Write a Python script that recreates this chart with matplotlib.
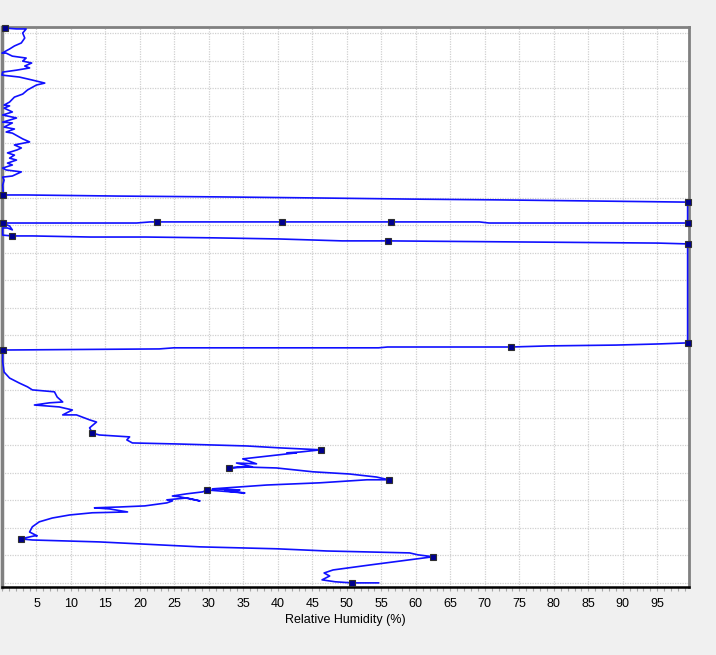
import matplotlib
matplotlib.use("Agg")
import matplotlib.pyplot as plt
from matplotlib.ticker import MultipleLocator

# sounding trace, surface upwards: relative humidity (%) and altitude (km)
rh = [
    54.6, 50.7, 48.3, 46.4, 47.5, 46.7, 48.0, 53.3, 59.1, 62.5,
    60.3, 59.1, 47.1, 39.8, 28.7, 14.1, 4.4, 2.7, 4.7, 5.1,
    4.0, 4.4, 5.4, 7.3, 9.8, 13.1, 18.2, 15.6, 13.4, 17.0,
    20.7, 23.9, 24.7, 23.9, 26.8, 28.7, 25.8, 24.7, 26.8, 29.1,
    29.7, 35.2, 32.3, 34.5, 30.5, 38.4, 46.1, 52.9, 56.1, 54.3,
    50.4, 45.1, 39.8, 34.5, 32.9, 36.3, 34.0, 36.9, 34.9, 37.4,
    42.7, 41.3, 43.2, 46.2, 40.3, 35.5, 25.8, 18.9, 18.1, 18.5,
    16.0, 14.1, 13.1, 12.7, 13.7, 12.7, 10.8, 8.8, 10.2, 8.3,
    4.7, 6.9, 8.8, 8.0, 7.6, 4.4, 3.7, 2.5, 1.1, 0.3,
    0.1, 0.1, 0.1, 22.8, 24.9, 54.6, 55.9, 73.8, 79.2, 89.0,
    95.1, 99.4, 99.4, 95.1, 74.5, 55.9, 49.3, 40.1, 30.8, 20.8,
    12.8, 4.4, 1.4, 0.1, 0.1, 0.8, 1.5, 1.1, 0.1, 19.5,
    21.5, 22.4, 40.6, 56.4, 69.2, 70.6, 99.4, 99.4, 85.9, 72.5,
    59.3, 46.1, 31.4, 16.9, 3.5, 0.2, 0.1, 0.3, 0.1, 1.5,
    2.8, 0.6, 0.1, 1.5, 0.8, 2.1, 1.1, 1.8, 0.8, 2.2,
    2.8, 1.8, 4.0, 3.0, 2.5, 1.5, 0.6, 1.8, 0.3, 1.5,
    0.1, 2.1, 0.1, 1.5, 0.3, 1.1, 0.3, 1.1, 1.8, 3.0,
    3.7, 5.0, 6.2, 4.4, 2.5, 1.1, 0.0, 0.1, 2.1, 4.0,
    3.3, 4.3, 3.0, 3.5, 1.5, 0.6, 0.0, 1.1, 1.8, 2.8,
    3.3, 3.0, 3.5, 2.1, 0.5,
]
alt = [
    0.00, 0.00, 0.04, 0.11, 0.25, 0.36, 0.47, 0.65, 0.84, 0.95,
    1.02, 1.09, 1.16, 1.24, 1.31, 1.49, 1.56, 1.60, 1.71, 1.71,
    1.85, 2.04, 2.22, 2.36, 2.47, 2.55, 2.58, 2.69, 2.73, 2.76,
    2.80, 2.91, 2.98, 3.02, 3.09, 2.98, 3.13, 3.16, 3.24, 3.31,
    3.38, 3.27, 3.35, 3.38, 3.42, 3.56, 3.64, 3.75, 3.75, 3.85,
    3.96, 4.04, 4.18, 4.22, 4.18, 4.22, 4.36, 4.33, 4.51, 4.58,
    4.73, 4.73, 4.76, 4.84, 4.91, 4.98, 5.05, 5.09, 5.20, 5.31,
    5.35, 5.38, 5.45, 5.64, 5.85, 5.93, 6.11, 6.11, 6.29, 6.40,
    6.47, 6.55, 6.58, 6.76, 6.95, 7.02, 7.13, 7.27, 7.45, 7.67,
    8.04, 8.29, 8.47, 8.51, 8.55, 8.55, 8.58, 8.58, 8.62, 8.65,
    8.69, 8.73, 12.33, 12.36, 12.40, 12.44, 12.44, 12.51, 12.55, 12.58,
    12.58, 12.62, 12.62, 12.65, 12.91, 12.91, 12.84, 12.98, 13.09, 13.09,
    13.13, 13.13, 13.13, 13.13, 13.13, 13.09, 13.09, 13.85, 13.89, 13.93,
    13.96, 14.00, 14.04, 14.07, 14.11, 14.11, 14.47, 14.65, 14.76, 14.80,
    14.95, 15.02, 15.09, 15.20, 15.27, 15.38, 15.45, 15.56, 15.64, 15.75,
    15.82, 15.93, 16.04, 16.15, 16.22, 16.36, 16.40, 16.51, 16.58, 16.73,
    16.76, 16.91, 17.02, 17.13, 17.27, 17.35, 17.38, 17.49, 17.67, 17.78,
    17.93, 18.11, 18.18, 18.29, 18.40, 18.44, 18.47, 18.58, 18.65, 18.73,
    18.80, 18.91, 18.98, 19.09, 19.16, 19.27, 19.27, 19.42, 19.53, 19.64,
    19.82, 20.00, 20.15, 20.15, 20.18,
]
# samples that carry a marker
marked = [1, 9, 17, 40, 48, 54, 63, 72, 92, 97, 101, 102, 105, 112,
          118, 121, 122, 123, 126, 127, 135, 194]

rh_ticks = list(range(5, 100, 5))

fig = plt.figure(figsize=(7.16, 6.55), dpi=100)
fig.patch.set_facecolor("#f0f0f0")
ax = fig.add_axes([2 / 716, 68 / 655, 687 / 716, 560 / 655])
ax.set_facecolor("white")

ax.plot(rh, alt, color="#1010ff", linewidth=1.2,
        marker="s", markevery=marked, markersize=4.5,
        markerfacecolor="#000090", markeredgecolor="#303030",
        markeredgewidth=0.8, clip_on=False, zorder=3)

ax.set_xlim(0, 99.6)
ax.set_ylim(-0.15, 20.22)

ax.set_xticks(rh_ticks)
ax.xaxis.set_minor_locator(MultipleLocator(1))
ax.set_yticks(range(0, 21))
ax.tick_params(axis="x", which="both", direction="out", length=3,
               width=0.8, color="#a8a8a8", labelsize=9, pad=5)
ax.tick_params(axis="y", which="both", length=0, labelleft=False)
for lab in ax.get_xticklabels():
    lab.set_family("Liberation Sans")

ax.grid(True, which="major", color="#d0d0d0", linestyle=(0, (1, 1)),
        linewidth=0.9)
ax.set_axisbelow(True)

ax.set_xlabel("Relative Humidity (%)", fontsize=9,
              family="Liberation Sans", labelpad=3)

ax.spines["left"].set_color("#808080")
ax.spines["left"].set_linewidth(2.5)
ax.spines["top"].set_color("#808080")
ax.spines["top"].set_linewidth(2)
ax.spines["right"].set_color("#808080")
ax.spines["right"].set_linewidth(2)
ax.spines["bottom"].set_color("black")
ax.spines["bottom"].set_linewidth(1.8)

fig.savefig("out.png", dpi=100, facecolor=fig.get_facecolor())
